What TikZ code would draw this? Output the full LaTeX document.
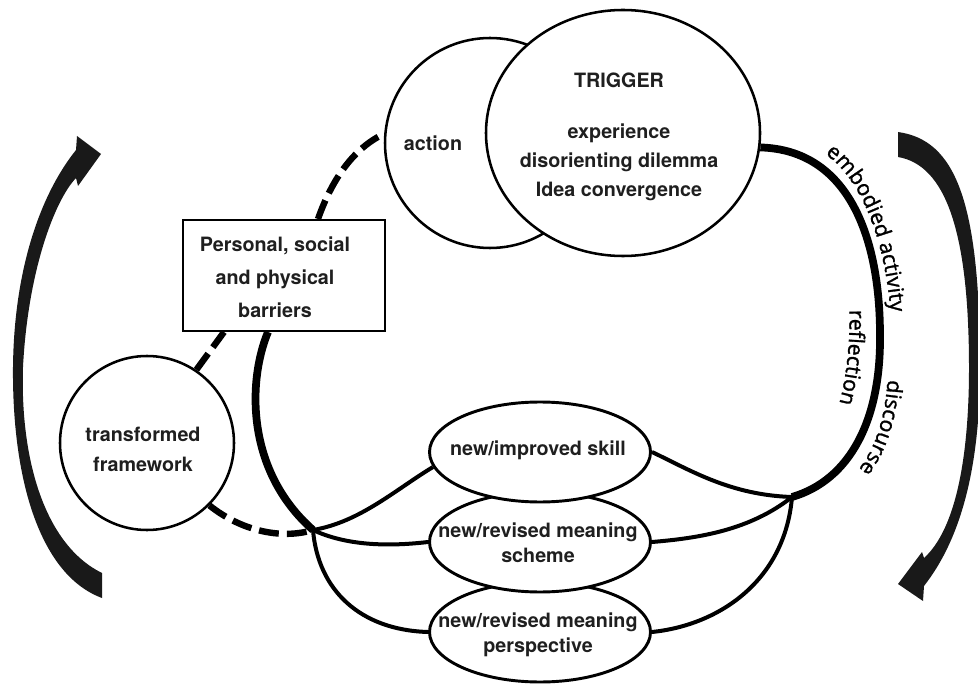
\documentclass[tikz,border=0pt]{standalone}
\usepackage{fontspec}
\setmainfont{TeX Gyre Heros}
\newfontfamily\cfont{Open Sans}[FakeBold=1.3]
\usetikzlibrary{shapes.geometric,decorations.text}
\pgfdeclarelayer{bg}
\pgfsetlayers{bg,main}
\begin{document}
\begin{tikzpicture}[x=0.75pt,y=-0.75pt,
  lbl/.style={font=\bfseries\fontsize{14.8pt}{#1}\selectfont, align=center, inner sep=0pt, text=black!88},
  lbl/.default=19pt,
  shp/.style={draw, fill=white, inner sep=0pt},
  circ/.style={shp, circle, line width=1.9pt},
  bigoval/.style={shp, ellipse, line width=1.9pt},
  oval/.style={shp, ellipse, line width=2.2pt, minimum width=165.75pt, minimum height=75pt},
  boxst/.style={shp, rectangle, line width=1.5pt, minimum width=151.5pt, minimum height=83.25pt},
  thinline/.style={line width=3pt},
  thickline/.style={line width=5.8pt},
  dsh/.style={line width=4.8pt, dash pattern=on 15pt off 6pt},
  curvetext/.style={decorate, decoration={text along path, text align=center,
     text={|\cfont\fontsize{16pt}{16pt}\selectfont|#1}}},
  bigarrow/.style={fill=black!90}
]
\useasboundingbox (0,0) rectangle (978,684);

% nodes
\node[circ, minimum size=157.5pt] (action) at (490,143) {};
\node[lbl] (actiontxt) at (433,143) {action};
\node[bigoval, minimum width=205.5pt, minimum height=184.5pt] (trigger) at (623,133) {};
\node[lbl] (triggertitle) at (619,80) {TRIGGER};
\node[lbl=21.75pt] (triggertxt) at (619,162) {experience\\disorienting dilemma\\Idea convergence};

\node[boxst] (box) at (284,275.5) {};
\node[lbl=24.75pt] (boxtxt) at (275,277) {Personal, social\\and physical\\barriers};

\node[circ, minimum size=130.5pt] (fw) at (147,443) {};
\node[lbl=22.5pt] (fwtxt) at (143,449) {transformed\\framework};

\node[oval] (persp) at (540,632) {};
\node[lbl] (persptxt) at (538,635) {new/revised meaning\\perspective};
\node[oval] (scheme) at (540,542) {};
\node[lbl] (schemetxt) at (538,543) {new/revised meaning\\scheme};
\node[oval] (skill) at (540,452) {};
\node[lbl] (skilltxt) at (538,450) {new/improved skill};

% connectors
\begin{pgfonlayer}{bg}
\coordinate (jl) at (313,530);
\coordinate (jr) at (792,497);
\draw[thickline] ([xshift=-12pt]box.south) .. controls (248,380) and (245,470) .. (jl);
\draw[thinline] (jl) .. controls (345,545) and (385,547) .. (scheme.west);
\draw[thinline] (jl) .. controls (360,522) and (395,490) .. (skill.188);
\draw[thinline] (jl) .. controls (318,590) and (360,630) .. (persp.west);
\draw[dsh] (fw.-45) .. controls (240,530) and (280,540) .. (jl);
\draw[dsh] (fw.56) -- ([xshift=31.5pt]box.south west);
\draw[dsh] ([xshift=25.5pt]box.north) .. controls (330,185) and (350,150) .. (action.175);
\draw[thickline] (trigger.-6) .. controls (850,150) and (880,240) .. (880,335)
   .. controls (881,420) and (850,480) .. (jr);
\draw[thinline] (skill.east) .. controls (690,470) and (730,495) .. (jr);
\draw[thinline] (scheme.east) .. controls (700,538) and (750,530) .. (jr);
\draw[thinline] (persp.east) .. controls (720,625) and (785,580) .. (jr);
\end{pgfonlayer}

% curved labels
\path[curvetext={embodied activity}] (795,141) .. controls (856,152) and (891,240) .. (892,345);
\path[curvetext={reflection}] (849,298) .. controls (851,340) and (847,380) .. (836,415);
\path[curvetext={discourse}] (888,362) .. controls (888,420) and (873,457) .. (847,483);

% big arrows
\fill[bigarrow] (102,598) .. controls (40,575) and (12,480) .. (13,367)
   .. controls (14,270) and (40,195) .. (76,150)
   -- (77,136) -- (101,154) -- (78,186) -- (76,178)
   .. controls (55,200) and (28,270) .. (23,367)
   .. controls (20,460) and (45,545) .. (102,573) -- cycle;
\fill[bigarrow] (898,132) .. controls (955,140) and (980,200) .. (980,368)
   .. controls (980,470) and (960,540) .. (924,586)
   -- (923,601) -- (898,584) -- (922,552) -- (924,558)
   .. controls (955,530) and (969,460) .. (969,368)
   .. controls (969,230) and (945,165) .. (898,157) -- cycle;
\end{tikzpicture}
\end{document}
